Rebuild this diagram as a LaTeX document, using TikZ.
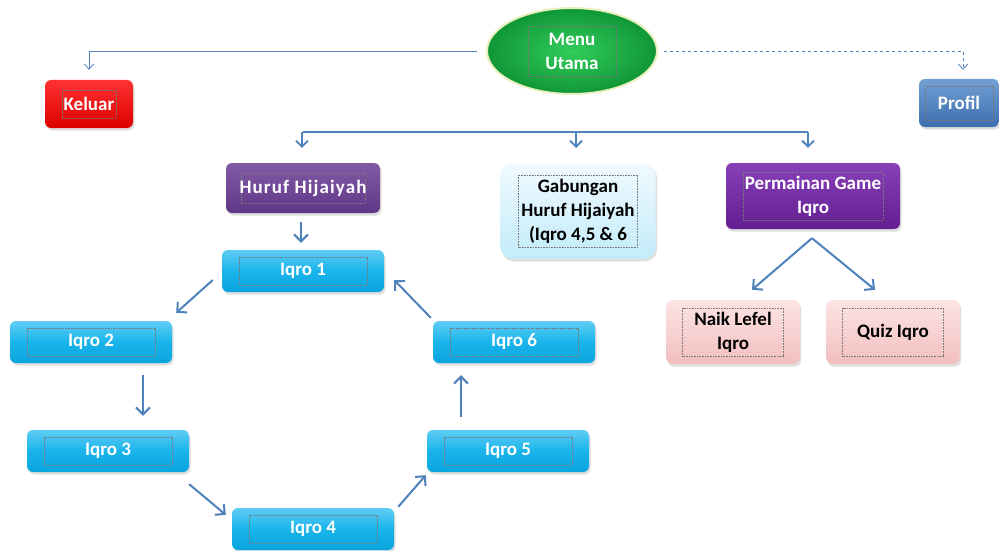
\documentclass[tikz,border=0pt]{standalone}
\usepackage{fontspec}
\setmainfont{Carlito}
\usetikzlibrary{arrows.meta,shapes.geometric,shadows,calc}
\definecolor{lineblue}{RGB}{79,129,189}
\definecolor{iqtop}{RGB}{95,205,245}
\definecolor{iqmid}{RGB}{25,180,234}
\definecolor{iqbot}{RGB}{10,165,222}
\definecolor{redtop}{RGB}{255,50,50}
\definecolor{redbot}{RGB}{220,0,0}
\definecolor{proftop}{RGB}{115,160,212}
\definecolor{profbot}{RGB}{60,110,175}
\definecolor{pur1top}{RGB}{130,90,165}
\definecolor{pur1bot}{RGB}{95,55,135}
\definecolor{pur2top}{RGB}{135,65,185}
\definecolor{pur2bot}{RGB}{100,30,145}
\definecolor{gabtop}{RGB}{240,250,255}
\definecolor{gabbot}{RGB}{195,235,250}
\definecolor{pinktop}{RGB}{253,228,228}
\definecolor{pinkbot}{RGB}{242,190,190}
\definecolor{greenin}{RGB}{50,205,90}
\definecolor{greenout}{RGB}{15,150,55}
\definecolor{glow}{RGB}{232,240,190}
\definecolor{framegray}{RGB}{120,120,120}
\tikzset{
  x=1pt, y=-1pt,
  txt/.style={font=\bfseries\fontsize{19}{24}\selectfont, align=center, inner sep=0pt},
  tframe/.style 2 args={path picture={\draw[draw=framegray,dash pattern=on 0.8pt off 0.8pt,line width=0.7pt,sharp corners]
      ([shift={(#1pt,-#2pt)}]path picture bounding box.north west) rectangle
      ([shift={(-#1pt,#2pt)}]path picture bounding box.south east);}},
  box/.style={txt, rounded corners=6pt, drop shadow={opacity=0.25,shadow xshift=1.5pt,shadow yshift=-2.5pt}},
  iqro/.style={box, text=white, top color=iqtop, bottom color=iqbot, middle color=iqmid,
      minimum width=162pt, minimum height=42pt, tframe={17}{7}},
  conn/.style={draw=lineblue, line width=1.8pt},
  thin/.style={draw=lineblue, line width=0.8pt, -{Straight Barb[length=5pt,width=9pt,line width=0.8pt]}},
  arr/.style={draw=lineblue, line width=1.8pt, -{Straight Barb[length=6pt,width=12pt,line width=1.8pt]}},
  barr/.style={draw=lineblue, line width=2pt, -{Straight Barb[length=7pt,width=14pt,line width=2pt]}}
}
\begin{document}
\begin{tikzpicture}
\useasboundingbox[fill=white] (0,0) rectangle (999,551);

% main ellipse
\node[ellipse, txt, text=white, minimum width=170pt, minimum height=86pt,
      inner color=greenin, outer color=greenout, draw=glow, line width=2pt,
      tframe={41}{18}] (menu) at (572,51) {Menu\\Utama};

\node[box, text=white, top color=redtop, bottom color=redbot, minimum width=88pt, minimum height=48pt,
      tframe={17}{10}] (keluar) at (89,104) {Keluar};
\node[box, text=white, top color=proftop, bottom color=profbot, minimum width=80pt, minimum height=48pt,
      tframe={6}{7}] (profil) at (959,103) {Profil};

\node[box, text=white, top color=pur1top, bottom color=pur1bot, minimum width=154pt, minimum height=50pt,
      tframe={15}{10}] (huruf) at (303,188) {\addfontfeatures{LetterSpace=6}Huruf Hijaiyah};
\node[box, text=black, top color=gabtop, bottom color=gabbot, minimum width=155pt, minimum height=96pt,
      rounded corners=12pt, tframe={18}{12}] (gab) at (578,211) {Gabungan\\Huruf Hijaiyah\\(Iqro 4,5 \& 6};
\node[box, text=white, top color=pur2top, bottom color=pur2bot, minimum width=174pt, minimum height=66pt,
      tframe={17}{9}] (perm) at (813,196) {Permainan Game\\Iqro};

\node[box, text=black, top color=pinktop, bottom color=pinkbot, minimum width=133pt, minimum height=64pt,
      tframe={16}{8}] (naik) at (733,332) {Naik Lefel\\Iqro};
\node[box, text=black, top color=pinktop, bottom color=pinkbot, minimum width=133pt, minimum height=64pt,
      tframe={16}{8}] (quiz) at (893,332) {Quiz Iqro};

\node[iqro] (i1) at (303,271) {Iqro 1};
\node[iqro] (i2) at (91,342) {Iqro 2};
\node[iqro] (i3) at (108,451) {Iqro 3};
\node[iqro] (i4) at (313,529) {Iqro 4};
\node[iqro] (i5) at (508,451) {Iqro 5};
\node[iqro] (i6) at (514,342) {Iqro 6};

% top connectors
\draw[thin] ($(menu.west)+(-9,0)$) -| ($(keluar.north)+(0,-10)$);
\draw[thin, dashed] ($(menu.east)+(6,0)$) -| ($(profil.north)+(4,-9)$);

\coordinate (busy) at (0,132);
\draw[conn] ($(menu.south)+(4,0)$) -- ($(menu.south)+(4,0)$ |- busy);
\draw[conn] (huruf.north |- busy) -- ($(perm.north |- busy)+(-5,0)$);
\draw[arr] ($(huruf.north |- busy)+(-1,0)$) -- ($(huruf.north)+(-1,-15)$);
\draw[arr] ($(menu.south |- busy)+(4,0)$) -- ($(menu.south |- busy)+(4,16)$);
\draw[arr] ($(perm.north |- busy)+(-5,0)$) -- ($(perm.north)+(-5,-15)$);

% Iqro cycle
\draw[barr] ($(huruf.south)+(-2,9)$) -- ($(i1.north)+(-2,-7)$);
\draw[barr] ($(i1.west)+(-9,9)$) -- ($(i2.north east)+(4,-8)$);
\draw[barr] ($(i2.south)+(52,12)$) -- ($(i3.north)+(35,-14)$);
\draw[barr] ($(i3.south east)+(0,12)$) -- ($(i4.north west)+(-6,7)$);
\draw[barr] ($(i4.north east)+(4,-1)$) -- ($(i5.south west)+(-1,3)$);
\draw[barr] ($(i5.north)+(-47,-13)$) -- ($(i6.south)+(-53,12)$);
\draw[barr] ($(i6.north west)+(-2,-3)$) -- ($(i1.east)+(10,9)$);

% game branch
\draw[barr] ($(perm.south)+(-1,9)$) -- ($(naik.north)+(19,-10)$);
\draw[barr] ($(perm.south)+(-1,9)$) -- ($(quiz.north)+(-18,-10)$);
\end{tikzpicture}
\end{document}
